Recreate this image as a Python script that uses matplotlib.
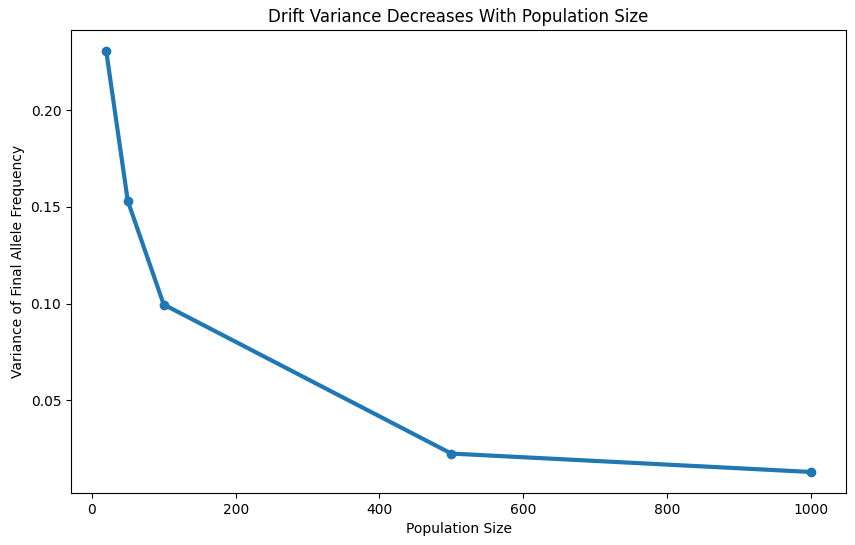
import matplotlib
matplotlib.use('Agg')
import matplotlib.pyplot as plt

pop_sizes = [20, 50, 100, 500, 1000]
variances = [0.2305, 0.1530, 0.0995, 0.0225, 0.0130]

fig = plt.figure(figsize=(8.55, 5.45), dpi=100)
ax = fig.add_axes([71/855, 1 - 493/545, (846-71)/855, (493-30)/545])
ax.plot(pop_sizes, variances, marker='o', linewidth=3)
ax.set_title('Drift Variance Decreases With Population Size')
ax.set_xlabel('Population Size')
ax.set_ylabel('Variance of Final Allele Frequency')
ax.set_yticks([0.05, 0.10, 0.15, 0.20])
fig.savefig('out.png')
